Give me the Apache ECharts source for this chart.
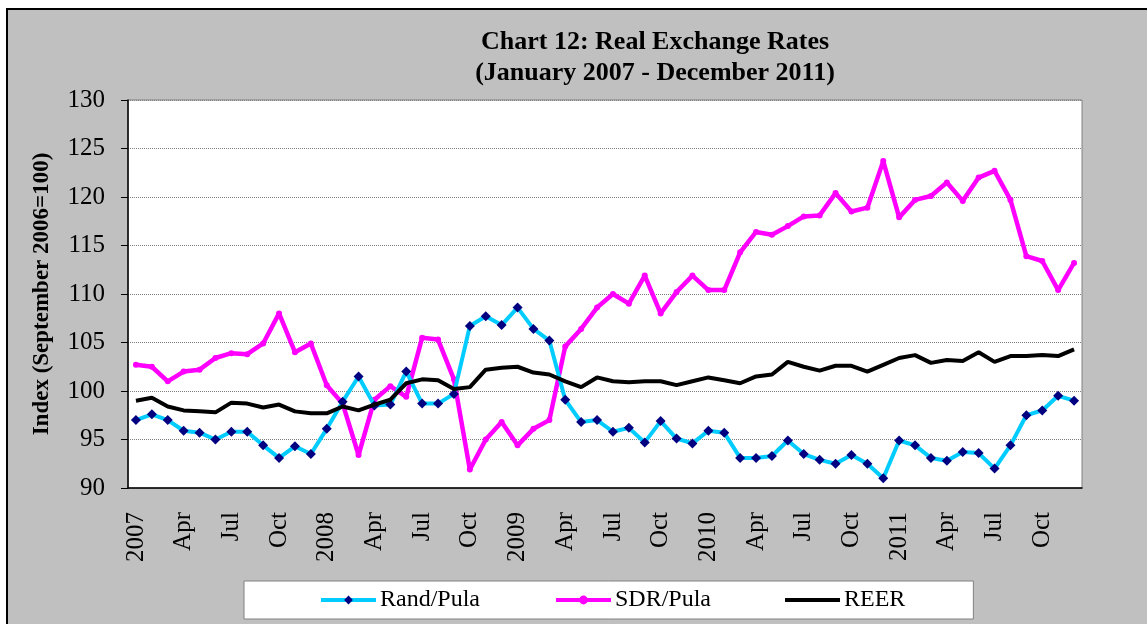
<!DOCTYPE html>
<html>
<head>
<meta charset="utf-8">
<script src="https://cdn.jsdelivr.net/npm/echarts@6/dist/echarts.min.js"></script>
<style>
  html, body { margin: 0; padding: 0; background: #fff; }
  #chart { width: 1147px; height: 624px; }
</style>
</head>
<body>
<div id="chart"></div>
<script>
// months Jan 2007 - Dec 2011, every January labelled with the year
var months = ['Jan','Feb','Mar','Apr','May','Jun','Jul','Aug','Sep','Oct','Nov','Dec'];
var years = ['2007','2008','2009','2010','2011'];
var categories = [];
years.forEach(function (y) {
    months.forEach(function (m, i) { categories.push(i === 0 ? y : m); });
});

var randPula = [
    97.0, 97.6, 97.0, 95.9, 95.7, 95.0, 95.8, 95.8, 94.4, 93.1, 94.3, 93.5,
    96.1, 98.9, 101.5, 98.5, 98.6, 102.0, 98.7, 98.7, 99.7, 106.7, 107.7, 106.8,
    108.6, 106.4, 105.2, 99.1, 96.8, 97.0, 95.8, 96.2, 94.7, 96.9, 95.1, 94.6,
    95.9, 95.7, 93.1, 93.1, 93.3, 94.9, 93.5, 92.9, 92.5, 93.4, 92.5, 91.0,
    94.9, 94.4, 93.1, 92.8, 93.7, 93.6, 92.0, 94.4, 97.5, 98.0, 99.5, 99.0
];
var sdrPula = [
    102.7, 102.5, 101.0, 102.0, 102.2, 103.4, 103.9, 103.8, 104.9, 108.0, 104.0, 104.9,
    100.6, 98.7, 93.4, 99.1, 100.5, 99.4, 105.5, 105.3, 101.2, 91.9, 95.0, 96.8,
    94.4, 96.1, 97.0, 104.6, 106.4, 108.6, 110.0, 109.0, 111.9, 108.0, 110.2, 111.9,
    110.4, 110.4, 114.3, 116.4, 116.1, 117.0, 118.0, 118.1, 120.4, 118.5, 118.9, 123.7,
    117.9, 119.7, 120.1, 121.5, 119.6, 122.0, 122.7, 119.7, 113.9, 113.4, 110.4, 113.2
];
var reer = [
    99.0, 99.3, 98.4, 98.0, 97.9, 97.8, 98.8, 98.7, 98.3, 98.6, 97.9, 97.7,
    97.7, 98.4, 98.0, 98.6, 99.1, 100.8, 101.2, 101.1, 100.2, 100.4, 102.2, 102.4,
    102.5, 101.9, 101.7, 101.0, 100.4, 101.4, 101.0, 100.9, 101.0, 101.0, 100.6, 101.0,
    101.4, 101.1, 100.8, 101.5, 101.7, 103.0, 102.5, 102.1, 102.6, 102.6, 102.0, 102.7,
    103.4, 103.7, 102.9, 103.2, 103.1, 104.0, 103.0, 103.6, 103.6, 103.7, 103.6, 104.3
];

var serif = '"Liberation Serif", "Times New Roman", serif';

var chart = echarts.init(document.getElementById('chart'));
chart.setOption({
    animation: false,
    backgroundColor: '#fff',
    graphic: [{
        type: 'rect',
        z: -10,
        shape: { x: 7, y: 9, width: 1150, height: 630 },
        style: { fill: '#C0C0C0', stroke: '#000', lineWidth: 2 }
    }],
    title: {
        text: 'Chart 12: Real Exchange Rates\n(January 2007 - December 2011)',
        left: 650,
        top: 22,
        textAlign: 'center',
        textStyle: {
            fontFamily: serif, fontSize: 26, fontWeight: 'bold',
            color: '#000', lineHeight: 31
        }
    },
    legend: {
        left: 244,
        top: 581,
        padding: [7, 68, 7, 75],
        itemGap: 74,
        itemWidth: 55,
        itemHeight: 11,
        backgroundColor: '#fff',
        borderColor: '#808080',
        borderWidth: 1,
        borderRadius: 0,
        lineStyle: { width: 4 },
        textStyle: { fontFamily: serif, fontSize: 24, color: '#000', padding: [0, 0, 0, -1] },
        data: [
            'Rand/Pula',
            'SDR/Pula',
            { name: 'REER', icon: 'path://M0,0 L55,0 L55,4 L0,4 Z' }
        ]
    },
    grid: {
        left: 128, top: 100, right: 65, bottom: 136,
        show: true, backgroundColor: '#fff',
        borderColor: '#808080', borderWidth: 1
    },
    xAxis: {
        type: 'category',
        data: categories,
        boundaryGap: true,
        axisLine: { lineStyle: { color: '#000', width: 1.5 } },
        axisTick: { interval: 0, length: 7, lineStyle: { color: '#808080' } },
        axisLabel: {
            interval: 2, rotate: 90, margin: 24,
            fontFamily: serif, fontSize: 25, color: '#000'
        }
    },
    yAxis: {
        type: 'value',
        min: 90, max: 130, interval: 5,
        name: 'Index (September 2006=100)',
        nameLocation: 'middle',
        nameGap: 74,
        nameTextStyle: { fontFamily: serif, fontSize: 23, fontWeight: 'bold', color: '#000' },
        axisLine: { show: true, lineStyle: { color: '#000', width: 1.5 } },
        axisTick: { show: true, length: 7, lineStyle: { color: '#000' } },
        axisLabel: { margin: 23, fontFamily: serif, fontSize: 25, color: '#000' },
        splitLine: { lineStyle: { color: '#808080', type: 'dotted', width: 1 } }
    },
    series: [
        {
            name: 'Rand/Pula', type: 'line', data: randPula,
            symbol: 'diamond', symbolSize: 10,
            lineStyle: { color: '#00CCFF', width: 4 },
            itemStyle: { color: '#000080' },
            z: 3
        },
        {
            name: 'SDR/Pula', type: 'line', data: sdrPula,
            symbol: 'circle', symbolSize: 6,
            lineStyle: { color: '#FF00FF', width: 4.5 },
            itemStyle: { color: '#FF00FF' },
            z: 2
        },
        {
            name: 'REER', type: 'line', data: reer,
            symbol: 'none',
            lineStyle: { color: '#000', width: 4 },
            itemStyle: { color: '#000' },
            z: 4
        }
    ]
});
</script>
</body>
</html>
